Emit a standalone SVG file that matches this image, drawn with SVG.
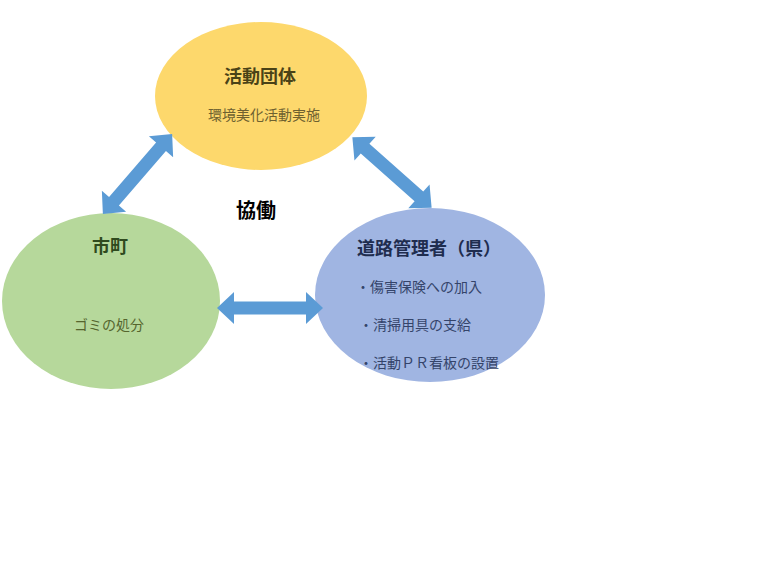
<svg xmlns="http://www.w3.org/2000/svg" width="778" height="584" viewBox="0 0 778 584">
<style>
text{font-family:"Noto Sans CJK JP","Noto Sans",sans-serif;}
.t{font-size:18px;font-weight:bold;}
.s{font-size:14px;}
.arrow{fill:#5b9bd5;}
</style>
<defs>
<path id="dbl" d="M-53,0 L-36,-16 L-36,-6.5 L36,-6.5 L36,-16 L53,0 L36,16 L36,6.5 L-36,6.5 L-36,16 Z"/>
</defs>
<rect width="778" height="584" fill="#ffffff"/>
<g id="node-dantai">
<ellipse cx="261" cy="96" rx="106" ry="74" fill="#fdd86c"/>
<text class="t" x="260" y="83" text-anchor="middle" fill="#4a4217">活動団体</text>
<text class="s" x="264" y="120" text-anchor="middle" fill="#6e6130">環境美化活動実施</text>
</g>
<g id="node-shicho">
<ellipse cx="111" cy="301" rx="109" ry="88" fill="#b6d89b"/>
<text class="t" x="110" y="253" text-anchor="middle" fill="#2f4a1e">市町</text>
<text class="s" x="109" y="330" text-anchor="middle" fill="#55652e">ゴミの処分</text>
</g>
<g id="node-ken">
<ellipse cx="430" cy="295" rx="115" ry="87" fill="#a0b5e2"/>
<text class="t" x="357" y="255" fill="#1f2d4f">道路管理者（県）</text>
<text class="s" x="356" y="292" fill="#34446a">・傷害保険への加入</text>
<text class="s" x="359" y="330" fill="#34446a">・清掃用具の支給</text>
<text class="s" x="359" y="368" fill="#34446a">・活動ＰＲ看板の設置</text>
</g>
<g id="label-kyodo">
<text x="256" y="218" text-anchor="middle" font-size="20" font-weight="bold" fill="#000000">協働</text>
</g>
<g id="connectors" class="arrow">
<use href="#dbl" transform="translate(137.5,174) rotate(-49.2)"/>
<use href="#dbl" transform="translate(392,172.5) rotate(41.6)"/>
<use href="#dbl" transform="translate(270,308)"/>
</g>
</svg>
